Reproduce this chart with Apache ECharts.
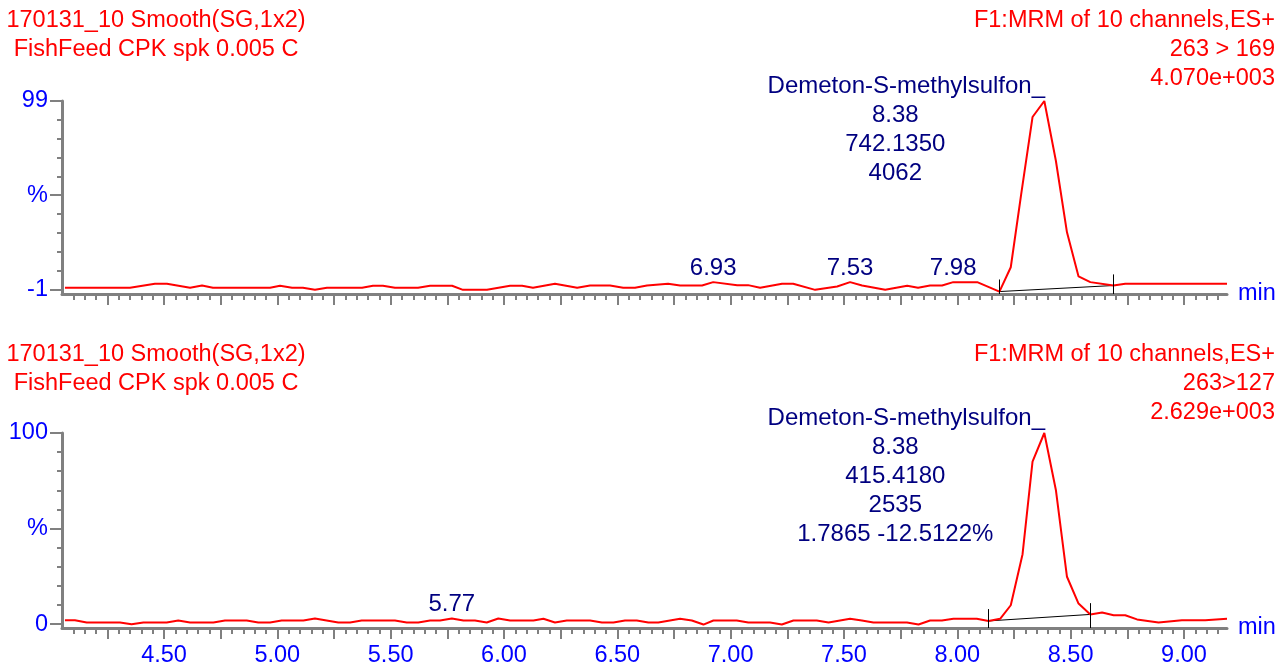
<!DOCTYPE html>
<html><head><meta charset="utf-8">
<script src="https://cdn.jsdelivr.net/npm/echarts@6/dist/echarts.min.js"></script>
<style>html,body{margin:0;padding:0;background:#fff;}#c{width:1280px;height:663px;}</style>
</head><body><div id="c"></div>
<script>
// ---- data (retention time in min, intensity in %) ----
const topTimes = [4.063,4.350,4.460,4.513,4.615,4.668,4.716,4.968,5.012,5.065,5.113,5.166,5.219,5.374,5.422,5.466,5.519,5.621,5.674,5.771,5.819,5.925,6.027,6.080,6.128,6.225,6.323,6.380,6.468,6.526,6.578,6.631,6.724,6.777,6.874,6.923,7.029,7.077,7.130,7.227,7.276,7.373,7.470,7.527,7.580,7.682,7.779,7.827,7.880,7.933,7.982,8.088,8.186,8.236,8.282,8.332,8.384,8.435,8.484,8.535,8.587,8.689,8.741,9.190];
const topIntensity = [-0.1,-0.1,2.0,2.0,-0.1,1.1,-0.1,-0.1,1.0,-0.1,-0.1,-1.2,-0.1,-0.1,1.0,1.0,-0.1,-0.1,1.0,1.0,-1.2,-1.2,1.0,1.0,-0.1,2.0,-0.1,1.1,1.1,-0.1,-0.1,1.1,2.0,1.1,1.1,2.9,1.3,1.3,-0.1,2.0,2.0,-1.2,0.6,2.9,1.1,-1.2,1.0,-0.1,1.1,1.1,2.9,2.9,-2.1,10.8,49.6,90.5,99,67.3,29.3,5.9,2.9,1.1,2.0,2.0];
const bottomTimes = [4.063,4.107,4.159,4.306,4.357,4.409,4.512,4.563,4.615,4.718,4.769,4.865,4.916,4.968,5.019,5.115,5.166,5.269,5.321,5.372,5.519,5.571,5.622,5.674,5.718,5.770,5.821,5.872,5.924,5.975,6.027,6.130,6.174,6.225,6.277,6.380,6.432,6.483,6.534,6.586,6.637,6.681,6.777,6.829,6.880,6.924,7.027,7.078,7.174,7.226,7.277,7.380,7.432,7.527,7.579,7.630,7.778,7.829,7.880,7.932,7.983,8.086,8.138,8.189,8.236,8.288,8.332,8.384,8.435,8.484,8.535,8.587,8.639,8.690,8.741,8.793,8.888,8.991,9.094,9.190];
const bottomIntensity = [2.1,2.1,0.9,0.9,0.0,0.9,0.9,1.9,0.9,0.9,1.9,1.9,0.9,0.9,1.9,1.9,3.0,0.9,0.9,1.9,1.9,0.9,0.9,1.9,1.9,3.0,1.9,1.9,0.9,3.0,1.9,1.9,2.8,0.9,1.9,1.9,0.9,0.9,1.9,1.9,0.9,0.9,2.8,1.9,-0.2,1.9,1.9,0.9,0.9,-0.2,1.9,1.9,0.9,2.8,1.9,0.9,0.9,-0.2,1.9,1.9,2.8,2.8,1.7,2.8,9.9,36.6,85.0,100,70.2,24.8,10.8,5.1,6.1,4.7,4.7,2.5,0.9,2.1,2.1,2.8];

const topPeakLabels = ['6.93','7.53','7.98'];
const bottomPeakLabels = ['5.77'];
const topMainPeak = 8.38;
const bottomMainPeak = 8.38;
const topAnnotation = ['8.38','742.1350','4062'];
const bottomAnnotation = ['8.38','415.4180','2535','1.7865 -12.5122%'];
const compoundName = 'Demeton-S-methylsulfon_';

const topIntegration = [8.186, 8.689];
const topIntegrationMarkTop = [4.3, 7.0];
const bottomIntegration = [8.138, 8.587];
const bottomIntegrationMarkTop = [7.9, 11.0];

const xMajorTicks = [4.25,4.50,4.75,5.00,5.25,5.50,5.75,6.00,6.25,6.50,6.75,7.00,7.25,7.50,7.75,8.00,8.25,8.50,8.75,9.00];
const xTickLabels = [4.50,5.00,5.50,6.00,6.50,7.00,7.50,8.00,8.50,9.00];
const xMinorTicks = [];
for (let i = 82; i <= 183; i++) xMinorTicks.push(+(i * 0.05).toFixed(2));

const topYMajor = [-1, 49, 99];
const topYMinor = [9, 19, 29, 39, 59, 69, 79, 89];
const bottomYMajor = [0, 50, 100];
const bottomYMinor = [10, 20, 30, 40, 60, 70, 80, 90];

const topHeader = ['170131_10 Smooth(SG,1x2)', 'FishFeed CPK spk 0.005 C'];
const topHeaderRight = ['F1:MRM of 10 channels,ES+', '263 > 169', '4.070e+003'];
const bottomHeader = ['170131_10 Smooth(SG,1x2)', 'FishFeed CPK spk 0.005 C'];
const bottomHeaderRight = ['F1:MRM of 10 channels,ES+', '263>127', '2.629e+003'];

// ---- styling ----
const FONT = 'Liberation Sans, Arial, sans-serif';
const FS = 23.5;
const AFS = 24;
const RED = '#ff0000', NAVY = '#000080', BLUE = '#0000ff', GRAY = '#808080';
const X_MIN = 4.05, X_MAX = 9.19;
const TOP_YMIN = -3.4, TOP_YMAX = 99;
const BOT_YMIN = -2, BOT_YMAX = 100;

function zip(a, b) { return a.map((t, i) => [t, b[i]]); }
function nearest(times, t) {
  let best = 0;
  times.forEach((v, i) => { if (Math.abs(v - t) < Math.abs(times[best] - t)) best = i; });
  return best;
}
function txt(s, color, extra) {
  return Object.assign({ show: true, position: 'inside', formatter: s, color: color, fontSize: AFS, fontFamily: FONT }, extra || {});
}
function peakMarks(times, vals, labels, mainT, annot) {
  const data = labels.map(l => {
    const i = nearest(times, parseFloat(l));
    return { coord: [times[i], vals[i]], label: txt(l, NAVY, { offset: [0, -14] }) };
  });
  const j = nearest(times, mainT);
  data.push({ coord: [times[j], vals[j]], label: txt(compoundName, NAVY, { offset: [-138, -14.5] }) });
  const n = annot.length;
  data.push({ coord: [times[j], vals[j]], label: txt(annot.join('\n'), NAVY, { lineHeight: 29, align: 'center', offset: [-149, 13 + 15 * (n - 1)] }) });
  return { symbol: 'circle', symbolSize: 0, silent: true, itemStyle: { color: 'transparent' }, data: data };
}
function integration(times, vals, range, tops, ymin, xi, yi) {
  const a = nearest(times, range[0]), b = nearest(times, range[1]);
  return {
    type: 'line', xAxisIndex: xi, yAxisIndex: yi, symbol: 'none', silent: true, z: 3,
    data: [[times[a], vals[a]], [times[b], vals[b]]],
    lineStyle: { color: '#000', width: 1 },
    markLine: {
      symbol: ['none', 'none'], silent: true, label: { show: false },
      lineStyle: { color: '#000', width: 1, type: 'solid' },
      data: [
        [{ coord: [times[a], tops[0]] }, { coord: [times[a], ymin] }],
        [{ coord: [times[b], tops[1]] }, { coord: [times[b], ymin] }]
      ]
    }
  };
}
function xAxes(gi, withLabels) {
  return [{
    type: 'value', gridIndex: gi, min: X_MIN, max: X_MAX, position: 'bottom',
    axisLine: { show: true, onZero: false, lineStyle: { color: GRAY, width: 3 } },
    axisTick: { show: true, customValues: xMajorTicks, length: 11, lineStyle: { color: GRAY, width: 2 } },
    axisLabel: withLabels ? { show: true, customValues: xTickLabels, formatter: v => v.toFixed(2), color: BLUE, fontSize: FS, fontFamily: FONT, margin: 16 } : { show: false },
    splitLine: { show: false },
    name: 'min', nameLocation: 'end', nameGap: 11,
    nameTextStyle: { color: BLUE, fontSize: FS, fontFamily: FONT, verticalAlign: 'middle', padding: [10, 0, 0, 0] }
  }, {
    type: 'value', gridIndex: gi, min: X_MIN, max: X_MAX, position: 'bottom',
    axisLine: { show: false, onZero: false },
    axisTick: { show: true, customValues: xMinorTicks, length: 6, lineStyle: { color: GRAY, width: 2 } },
    axisLabel: { show: false }, splitLine: { show: false }
  }];
}
function yAxes(gi, ymin, ymax, major, minor) {
  return [{
    type: 'value', gridIndex: gi, min: ymin, max: ymax, position: 'left',
    axisLine: { show: true, onZero: false, lineStyle: { color: GRAY, width: 3 } },
    axisTick: { show: true, customValues: major, length: 12, lineStyle: { color: GRAY, width: 2 } },
    axisLabel: { show: true, customValues: major, formatter: v => (v === major[1] ? '%' : String(v)), color: BLUE, fontSize: FS, fontFamily: FONT, margin: 14 },
    splitLine: { show: false }
  }, {
    type: 'value', gridIndex: gi, min: ymin, max: ymax, position: 'left',
    axisLine: { show: false, onZero: false },
    axisTick: { show: true, customValues: minor, length: 5, lineStyle: { color: GRAY, width: 2 } },
    axisLabel: { show: false }, splitLine: { show: false }
  }];
}
function headerText(lines, x, y0, align) {
  return lines.map((s, i) => ({
    type: 'text', x: x, y: y0 + 29 * i, silent: true,
    style: { text: s, fill: RED, fontSize: FS, fontFamily: FONT, align: align, verticalAlign: 'middle' }
  }));
}

const chart = echarts.init(document.getElementById('c'), null, { renderer: 'canvas' });
chart.setOption({
  animation: false,
  backgroundColor: '#ffffff',
  grid: [
    { left: 62, top: 101, width: 1165, height: 193, containLabel: false, outerBoundsMode: 'none' },
    { left: 62, top: 433, width: 1165, height: 195, containLabel: false, outerBoundsMode: 'none' }
  ],
  xAxis: [...xAxes(0, false), ...xAxes(1, true)],
  yAxis: [...yAxes(0, TOP_YMIN, TOP_YMAX, topYMajor, topYMinor), ...yAxes(1, BOT_YMIN, BOT_YMAX, bottomYMajor, bottomYMinor)],
  series: [
    {
      type: 'line', xAxisIndex: 0, yAxisIndex: 0, symbol: 'none', z: 4,
      data: zip(topTimes, topIntensity),
      lineStyle: { color: RED, width: 2 },
      markPoint: peakMarks(topTimes, topIntensity, topPeakLabels, topMainPeak, topAnnotation)
    },
    integration(topTimes, topIntensity, topIntegration, topIntegrationMarkTop, TOP_YMIN, 0, 0),
    {
      type: 'line', xAxisIndex: 2, yAxisIndex: 2, symbol: 'none', z: 4,
      data: zip(bottomTimes, bottomIntensity),
      lineStyle: { color: RED, width: 2 },
      markPoint: peakMarks(bottomTimes, bottomIntensity, bottomPeakLabels, bottomMainPeak, bottomAnnotation)
    },
    integration(bottomTimes, bottomIntensity, bottomIntegration, bottomIntegrationMarkTop, BOT_YMIN, 2, 2)
  ],
  graphic: [
    ...headerText(topHeader, 156, 21, 'center'),
    ...headerText(topHeaderRight, 1275, 21, 'right'),
    ...headerText(bottomHeader, 156, 355, 'center'),
    ...headerText(bottomHeaderRight, 1275, 355, 'right')
  ]
});
</script>
</body></html>
